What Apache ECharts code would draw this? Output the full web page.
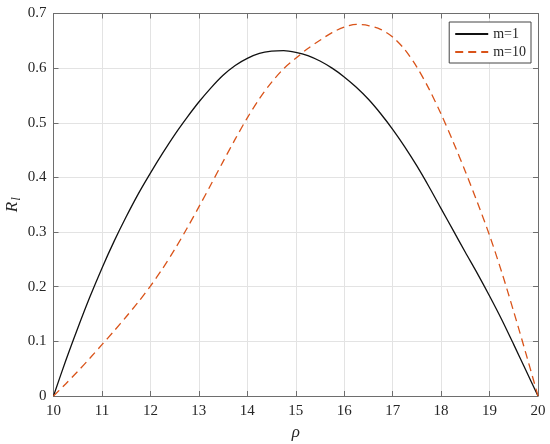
<!DOCTYPE html>
<html><head><meta charset="utf-8">
<script src="https://cdn.jsdelivr.net/npm/echarts@6/dist/echarts.min.js"></script>
<style>html,body{margin:0;padding:0;background:#fff}#c{width:550px;height:444px}</style>
</head><body><div id="c"></div>
<script>
const xTicks = [10, 11, 12, 13, 14, 15, 16, 17, 18, 19, 20];
const yTicks = [0, 0.1, 0.2, 0.3, 0.4, 0.5, 0.6, 0.7];
const rho = [10, 10.25, 10.5, 10.75, 11, 11.25, 11.5, 11.75, 12, 12.25, 12.5, 12.75, 13, 13.25, 13.5, 13.75,
             14, 14.25, 14.5, 14.75, 15, 15.25, 15.5, 15.75, 16, 16.25, 16.5, 16.75, 17, 17.25, 17.5, 17.75,
             18, 18.25, 18.5, 18.75, 19, 19.25, 19.5, 19.75, 20];
const R_m1 = [0, 0.064, 0.124, 0.181, 0.234, 0.283, 0.328, 0.370, 0.408, 0.444, 0.478, 0.509, 0.538, 0.564, 0.587, 0.605,
              0.618, 0.627, 0.631, 0.632, 0.629, 0.623, 0.613, 0.600, 0.584, 0.565, 0.543, 0.517, 0.488, 0.456, 0.421, 0.383,
              0.343, 0.303, 0.263, 0.224, 0.183, 0.140, 0.094, 0.047, 0];
const R_m10 = [0, 0.022, 0.045, 0.069, 0.094, 0.119, 0.145, 0.172, 0.201, 0.233, 0.268, 0.306, 0.346, 0.387, 0.429, 0.470,
               0.509, 0.544, 0.574, 0.599, 0.618, 0.636, 0.651, 0.665, 0.675, 0.680, 0.678, 0.671, 0.657, 0.634, 0.602, 0.562,
               0.516, 0.465, 0.411, 0.354, 0.294, 0.227, 0.154, 0.078, 0];

const font = '"Liberation Serif", "DejaVu Serif", serif';
const axisCol = '#6e6e6e';
const chart = echarts.init(document.getElementById('c'));
const baseX = {
  type: 'value', min: 10, max: 20, interval: 1,
  axisLine: {show: true, onZero: false, lineStyle: {color: axisCol, width: 1}},
  axisTick: {show: true, inside: true, length: 5, lineStyle: {color: axisCol}},
};
const baseY = {
  type: 'value', min: 0, max: 0.7, interval: 0.1,
  axisLine: {show: true, onZero: false, lineStyle: {color: axisCol, width: 1}},
  axisTick: {show: true, inside: true, length: 5, lineStyle: {color: axisCol}},
};
chart.setOption({
  animation: false,
  backgroundColor: '#fff',
  grid: {left: 53.5, right: 12, top: 13.5, bottom: 48, containLabel: false, outerBoundsMode: 'none'},
  xAxis: [
    Object.assign({}, baseX, {
      position: 'bottom',
      name: 'ρ', nameLocation: 'middle', nameGap: 28, nameMoveOverlap: false,
      nameTextStyle: {fontFamily: font, fontStyle: 'italic', fontSize: 17, color: '#262626'},
      axisLabel: {fontFamily: font, fontSize: 15, color: '#262626', margin: 8,
        formatter: v => xTicks.includes(v) ? String(v) : ''},
      splitLine: {show: true, lineStyle: {color: '#e3e3e3', width: 1}}
    }),
    Object.assign({}, baseX, {
      position: 'top', axisLabel: {show: false}, splitLine: {show: false}
    })
  ],
  yAxis: [
    Object.assign({}, baseY, {
      position: 'left',
      name: '{r|R}{s|l}', nameLocation: 'middle', nameGap: 30, nameRotate: 90, nameMoveOverlap: false,
      nameTextStyle: {rich: {
        r: {fontFamily: font, fontStyle: 'italic', fontSize: 17, color: '#262626'},
        s: {fontFamily: font, fontStyle: 'italic', fontSize: 13, color: '#262626', padding: [8, 0, 0, 1]}
      }},
      axisLabel: {fontFamily: font, fontSize: 15, color: '#262626', margin: 7,
        formatter: v => { const t = yTicks.find(k => Math.abs(k - v) < 1e-9); return t === undefined ? '' : String(t); }},
      splitLine: {show: true, lineStyle: {color: '#e3e3e3', width: 1}}
    }),
    Object.assign({}, baseY, {
      position: 'right', axisLabel: {show: false}, splitLine: {show: false}
    })
  ],
  legend: {
    right: 19, top: 22, orient: 'vertical',
    backgroundColor: '#fff', borderColor: '#444', borderWidth: 1,
    padding: [5, 5, 4, 5], itemGap: 4, itemWidth: 33, itemHeight: 12,
    itemStyle: {opacity: 0},
    textStyle: {fontFamily: font, fontSize: 14, color: '#262626'},
    data: ['m=1', 'm=10']
  },
  series: [
    {name: 'm=1', type: 'line', smooth: 0.3, symbol: 'none', xAxisIndex: 0, yAxisIndex: 0,
      data: rho.map((x, i) => [x, R_m1[i]]),
      lineStyle: {color: '#111', width: 1.3}, itemStyle: {color: '#111'}},
    {name: 'm=10', type: 'line', smooth: 0.3, symbol: 'none', xAxisIndex: 0, yAxisIndex: 0,
      data: rho.map((x, i) => [x, R_m10[i]]),
      lineStyle: {color: '#D95319', width: 1.3, type: [8, 5]}, itemStyle: {color: '#D95319'}}
  ]
});
</script></body></html>
